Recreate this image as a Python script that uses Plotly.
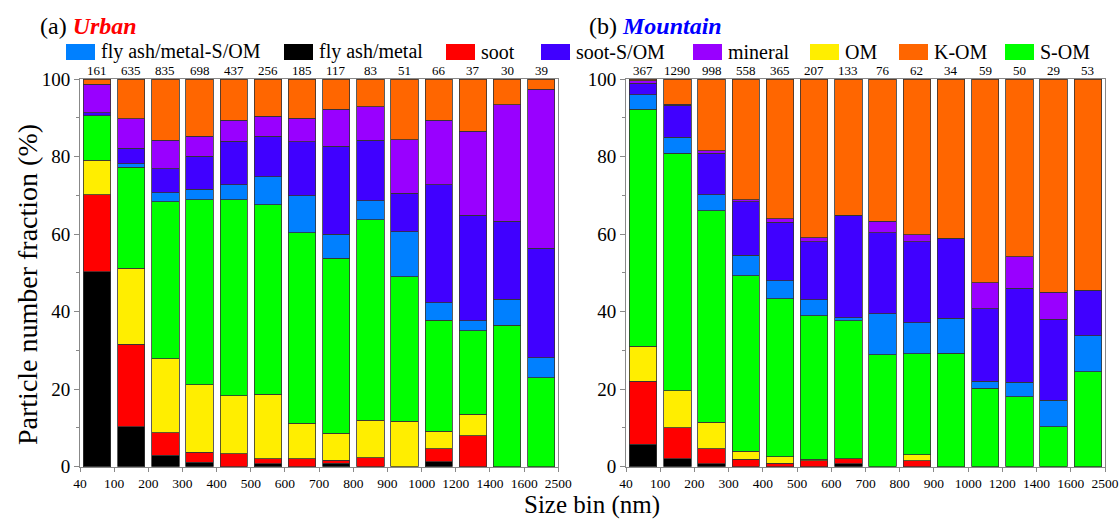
import plotly.graph_objects as go

# Size bin edges (nm) and particle counts per bin
bin_edges = ["40", "100", "200", "300", "400", "500", "600", "700", "800",
             "900", "1000", "1200", "1400", "1600", "2500"]
urban_counts = [161, 635, 835, 698, 437, 256, 185, 117, 83, 51, 66, 37, 30, 39]
mountain_counts = [367, 1290, 998, 558, 365, 207, 133, 76, 62, 34, 59, 50, 29, 53]

# Particle number fraction (%) per type, urban site
urban_fly_ash_metal = [50.3, 10.3, 3.0, 1.2, 0, 0.8, 0, 0.9, 0, 0, 1.3, 0, 0, 0]
urban_soot = [19.8, 21.3, 5.7, 2.5, 3.4, 1.2, 2.1, 0.8, 2.3, 0, 3.3, 8.0, 0, 0]
urban_om = [9.0, 19.6, 19.2, 17.4, 14.9, 16.7, 9.1, 6.9, 9.7, 11.7, 4.5, 5.5, 0, 0]
urban_s_om = [11.4, 26.0, 40.5, 47.8, 50.6, 48.9, 49.2, 45.2, 51.7, 37.3, 28.7, 21.6, 36.5, 23.0]
urban_fly_ash_metal_s_om = [0, 0.9, 2.3, 2.6, 3.8, 7.2, 9.5, 6.1, 4.9, 11.6, 4.5, 2.6, 6.7, 5.1]
urban_soot_s_om = [0.8, 4.1, 6.2, 8.6, 11.3, 10.4, 13.9, 22.7, 15.6, 9.9, 30.4, 27.1, 20.1, 28.2]
urban_mineral = [7.4, 7.6, 7.3, 5.1, 5.3, 5.2, 6.1, 9.6, 8.6, 13.8, 16.6, 21.7, 30.0, 41.0]
urban_k_om = [1.3, 10.2, 15.8, 14.8, 10.7, 9.6, 10.1, 7.8, 7.2, 15.7, 10.7, 13.5, 6.7, 2.7]

# Particle number fraction (%) per type, mountain site
mountain_fly_ash_metal = [5.8, 2.1, 0.7, 0, 0, 0, 0.7, 0, 0, 0, 0, 0, 0, 0]
mountain_soot = [16.3, 8.0, 3.9, 1.9, 0.9, 1.5, 1.4, 0, 1.6, 0, 0, 0, 0, 0]
mountain_om = [9.0, 9.5, 6.9, 2.1, 1.7, 0.4, 0, 0, 1.5, 0, 0, 0, 0, 0]
mountain_s_om = [61.1, 61.2, 54.5, 45.3, 40.7, 37.1, 35.6, 28.9, 26.0, 29.3, 20.3, 18.0, 10.3, 24.5]
mountain_fly_ash_metal_s_om = [3.8, 4.2, 4.2, 5.3, 4.7, 4.1, 0.7, 10.5, 8.0, 9.0, 1.7, 3.8, 6.9, 9.3]
mountain_soot_s_om = [2.9, 8.2, 10.7, 13.8, 15.0, 14.9, 26.4, 21.0, 20.9, 20.6, 18.7, 24.2, 20.8, 11.7]
mountain_mineral = [0.7, 0.3, 0.6, 0.4, 0.9, 1.1, 0, 2.9, 1.8, 0, 6.8, 8.1, 7.0, 0]
mountain_k_om = [0.4, 6.5, 18.5, 31.2, 36.1, 40.9, 35.2, 36.7, 40.2, 41.1, 52.5, 45.9, 55.0, 54.5]

# Stacking order from bottom to top
stack_names = ["fly ash/metal", "soot", "OM", "S-OM", "fly ash/metal-S/OM",
               "soot-S/OM", "mineral", "K-OM"]
colors = {
    "fly ash/metal-S/OM": "#0080FF",
    "fly ash/metal": "#000000",
    "soot": "#FF0000",
    "soot-S/OM": "#4000FF",
    "mineral": "#9900FF",
    "OM": "#FFEE00",
    "K-OM": "#FF6600",
    "S-OM": "#00FF00",
}
urban_series = [urban_fly_ash_metal, urban_soot, urban_om, urban_s_om,
                urban_fly_ash_metal_s_om, urban_soot_s_om, urban_mineral, urban_k_om]
mountain_series = [mountain_fly_ash_metal, mountain_soot, mountain_om, mountain_s_om,
                   mountain_fly_ash_metal_s_om, mountain_soot_s_om, mountain_mineral,
                   mountain_k_om]

# Legend order as displayed across the top
legend_order = ["fly ash/metal-S/OM", "fly ash/metal", "soot", "soot-S/OM",
                "mineral", "OM", "K-OM", "S-OM"]
legend_px = [66, 284, 446, 541, 693, 810, 899, 1005]

W, H = 1120, 520
SERIF = "Liberation Serif"
n_bins = len(bin_edges) - 1
centers = [i + 0.5 for i in range(n_bins)]

fig = go.Figure()
for series_set, xa, ya in [(urban_series, "x", "y"), (mountain_series, "x2", "y2")]:
    for name, vals in zip(stack_names, series_set):
        fig.add_trace(go.Bar(
            x=centers, y=vals, name=name, xaxis=xa, yaxis=ya,
            width=0.8, showlegend=False,
            marker=dict(color=colors[name], line=dict(color="#333333", width=0.8)),
            hoverinfo="name+y",
        ))

# Counts above each bar
annotations = []
for counts, xref in [(urban_counts, "x"), (mountain_counts, "x2")]:
    for c, xc in zip(counts, centers):
        annotations.append(dict(
            x=xc, y=100, xref=xref, yref="y" if xref == "x" else "y2",
            text=str(c), showarrow=False, yanchor="bottom", yshift=-1,
            font=dict(family=SERIF, size=13, color="black"),
        ))

# Panel titles
annotations.append(dict(
    x=38 / W, y=1 - 26 / H, xref="paper", yref="paper", xanchor="left", yanchor="middle",
    text="(a) <b><i><span style='color:#FF0000'>Urban</span></i></b>", showarrow=False,
    font=dict(family=SERIF, size=24, color="black"),
))
annotations.append(dict(
    x=587 / W, y=1 - 26 / H, xref="paper", yref="paper", xanchor="left", yanchor="middle",
    text="(b) <b><i><span style='color:#0000FF'>Mountain</span></i></b>", showarrow=False,
    font=dict(family=SERIF, size=24, color="black"),
))

# Axis titles
annotations.append(dict(
    x=27 / W, y=1 - 285 / H, xref="paper", yref="paper", xanchor="center", yanchor="middle",
    text="Particle number fraction (%)", textangle=-90, showarrow=False,
    font=dict(family=SERIF, size=28, color="black"),
))
annotations.append(dict(
    x=592 / W, y=0, xref="paper", yref="paper", xanchor="center", yanchor="bottom",
    text="Size bin (nm)", showarrow=False, borderpad=0, yshift=0,
    font=dict(family=SERIF, size=25, color="black"),
))

# Legend drawn as swatches and labels
shapes = []
leg_y = 52
for name, px in zip(legend_order, legend_px):
    shapes.append(dict(
        type="rect", xref="paper", yref="paper",
        x0=px / W, x1=(px + 29) / W, y0=1 - (leg_y + 8) / H, y1=1 - (leg_y - 8) / H,
        fillcolor=colors[name], line=dict(width=0),
    ))
    annotations.append(dict(
        x=(px + 33) / W, y=1 - leg_y / H, xref="paper", yref="paper",
        xanchor="left", yanchor="middle", text=name, showarrow=False,
        font=dict(family=SERIF, size=20, color="black"),
    ))

y_dom = [1 - 466.7 / H, 1 - 79 / H]
xaxis_common = dict(
    range=[0, n_bins], tickmode="array", tickvals=list(range(n_bins + 1)),
    ticktext=bin_edges, ticks="outside", ticklen=4, tickcolor="#888888",
    showline=True, linecolor="#888888", linewidth=1, mirror=True,
    showgrid=False, zeroline=False, automargin=False,
    tickfont=dict(family=SERIF, size=13.5, color="black"),
)
yaxis_common = dict(
    range=[0, 100], tickvals=[0, 20, 40, 60, 80, 100], ticks="outside", ticklen=5,
    tickcolor="#888888", showline=True, linecolor="#888888", linewidth=1, mirror=True,
    showgrid=False, zeroline=False, automargin=False,
    minor=dict(ticks="outside", dtick=10, ticklen=3, tickcolor="#888888"),
    tickfont=dict(family=SERIF, size=19, color="black"),
)

fig.update_layout(
    width=W, height=H, barmode="stack", bargap=0.2,
    paper_bgcolor="white", plot_bgcolor="white",
    margin=dict(l=0, r=0, t=0, b=0),
    font=dict(family=SERIF),
    xaxis=dict(domain=[80 / W, 558.3 / W], anchor="y", **xaxis_common),
    yaxis=dict(domain=y_dom, anchor="x", **yaxis_common),
    xaxis2=dict(domain=[626 / W, 1105 / W], anchor="y2", **xaxis_common),
    yaxis2=dict(domain=y_dom, anchor="x2", **yaxis_common),
    annotations=annotations, shapes=shapes, showlegend=False,
)

fig.write_html("out.html")
